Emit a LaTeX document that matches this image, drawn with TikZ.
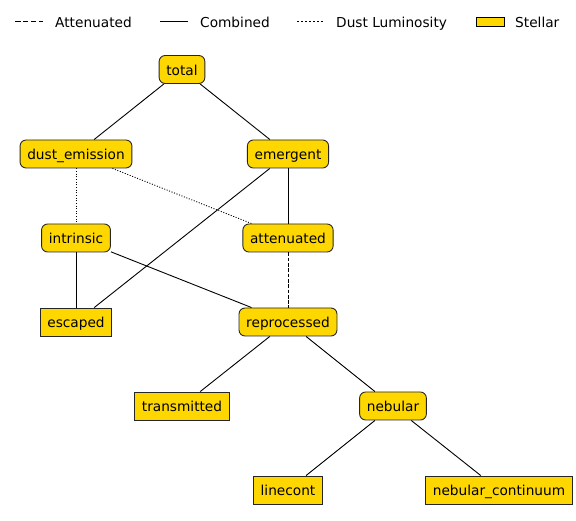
\documentclass[tikz,border=0pt]{standalone}
\usepackage{fontspec}
\setmainfont{DejaVu Sans}
\begin{document}
\begin{tikzpicture}[x=1pt,y=-1pt,
  every node/.style={font=\fontsize{13.7}{15}\selectfont},
  base/.style={draw=black!85, line width=0.9pt, fill=stellar, minimum height=28pt,
    inner xsep=7.2pt, inner ysep=0pt, text height=13pt, text depth=1.4pt},
  rbox/.style={base, rounded corners=6pt},
  sbox/.style={base},
  edge/.style={line width=0.9pt, black},
  attedge/.style={edge, dash pattern=on 3.7pt off 1.6pt},
  dustedge/.style={edge, dash pattern=on 1pt off 1.65pt},
  legline/.style={line width=1.5pt},
  legtext/.style={anchor=base west, inner sep=0pt}
]
\definecolor{stellar}{HTML}{FFD700}
\useasboundingbox (0,0) rectangle (576,521);

% legend
\coordinate (l1a) at (15,21.7); \coordinate (l1b) at (43,21.7);
\draw[legline, dash pattern=on 5.5pt off 2.4pt] (l1a) -- (l1b);
\node[legtext] (t1) at (55,27.3) {Attenuated};
\coordinate (l2a) at (160,21.7); \coordinate (l2b) at (188,21.7);
\draw[legline] (l2a) -- (l2b);
\node[legtext] (t2) at (200,27.3) {Combined};
\coordinate (l3a) at (297,21.7); \coordinate (l3b) at (325,21.7);
\draw[legline, dash pattern=on 1.5pt off 2.5pt] (l3a) -- (l3b);
\node[legtext] (t3) at (336,27.3) {Dust Luminosity};
\node[draw=black, line width=0.9pt, fill=stellar, minimum width=28pt, minimum height=9.5pt, inner sep=0pt] (lbox) at (490,22.2) {};
\node[legtext] (t4) at (515,27.3) {Stellar};

% nodes
\node[rbox] (total) at (182,69.5) {total};
\node[rbox] (dust) at (76,154) {dust\_emission};
\node[rbox] (emergent) at (288,154) {emergent};
\node[rbox] (intrinsic) at (76,238) {intrinsic};
\node[rbox] (attenuated) at (288,238) {attenuated};
\node[sbox] (escaped) at (76,322) {escaped};
\node[rbox] (reprocessed) at (288,322) {reprocessed};
\node[sbox] (transmitted) at (182,406) {transmitted};
\node[rbox] (nebular) at (393,406) {nebular};
\node[sbox] (linecont) at (288,490) {linecont};
\node[sbox] (nebcont) at (499,490) {nebular\_continuum};

% edges
\draw[edge] (total) -- (dust);
\draw[edge] (total) -- (emergent);
\draw[dustedge] (dust) -- (intrinsic);
\draw[dustedge] (dust) -- (attenuated);
\draw[edge] (emergent) -- (escaped);
\draw[edge] (emergent) -- (attenuated);
\draw[edge] (intrinsic) -- (escaped);
\draw[edge] (intrinsic) -- (reprocessed);
\draw[attedge] (attenuated) -- (reprocessed);
\draw[edge] (reprocessed) -- (transmitted);
\draw[edge] (reprocessed) -- (nebular);
\draw[edge] (nebular) -- (linecont);
\draw[edge] (nebular) -- (nebcont);
\end{tikzpicture}
\end{document}
